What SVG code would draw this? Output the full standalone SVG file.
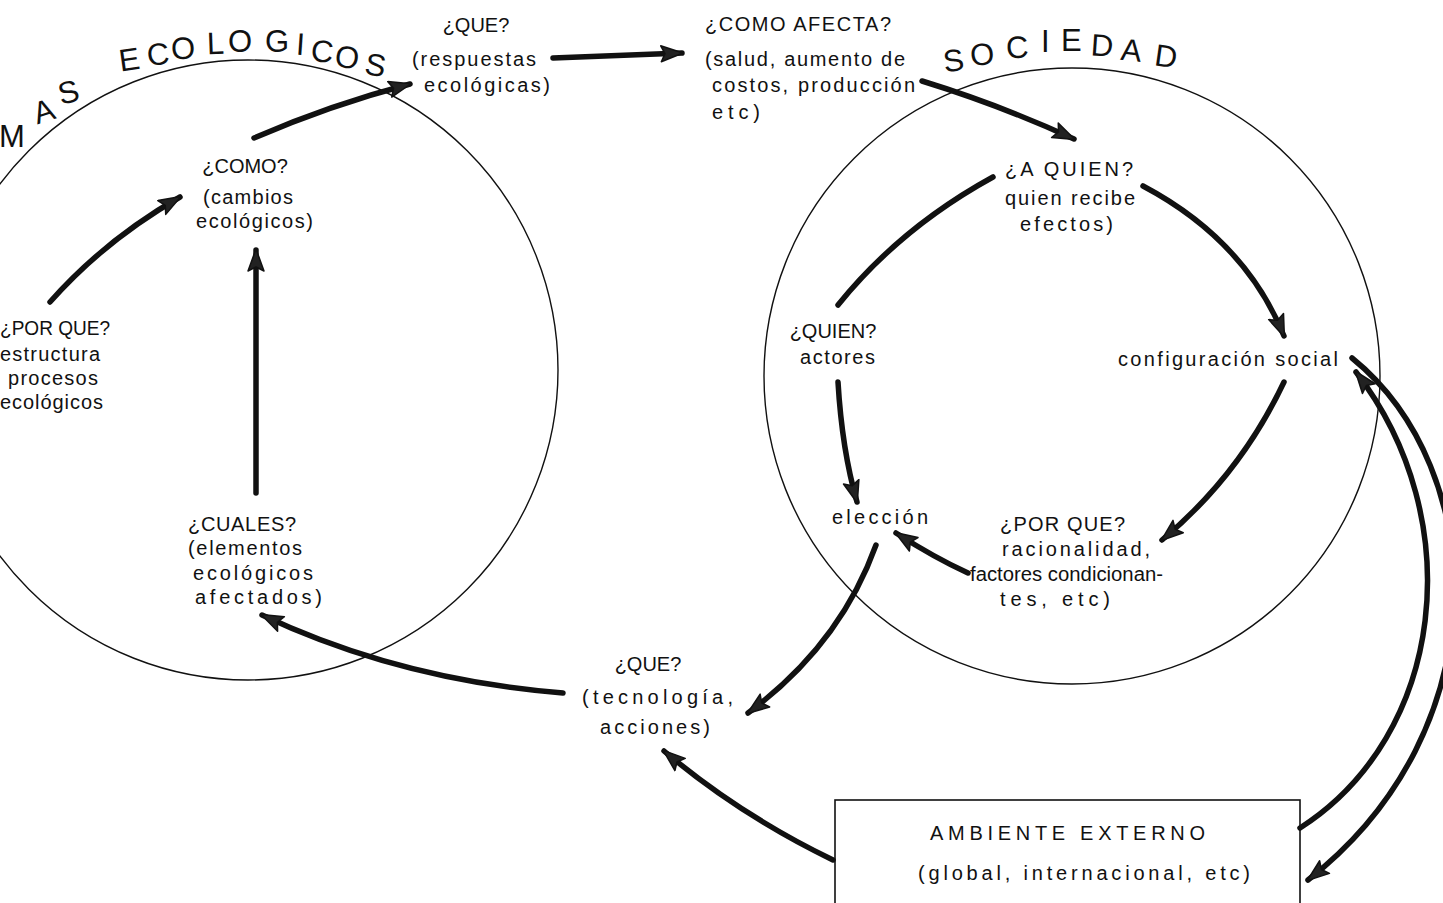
<svg xmlns="http://www.w3.org/2000/svg" width="1443" height="903" viewBox="0 0 1443 903">
<style>
text{font-family:"Liberation Sans","DejaVu Sans",sans-serif;font-size:20px;fill:#111;}
.c{text-anchor:middle;}
text.big{font-size:31px;}
.ring{fill:none;stroke:#111;stroke-width:1.4;}
.arr{fill:none;stroke:#111;stroke-width:5.5;stroke-linecap:round;marker-end:url(#ah);}
.arrn{fill:none;stroke:#111;stroke-width:5.5;stroke-linecap:round;}
.box{fill:#fff;stroke:#111;stroke-width:1.6;}
</style>
<defs>
<marker id="ah" markerUnits="userSpaceOnUse" markerWidth="28" markerHeight="22" refX="22" refY="9" orient="auto">
<path d="M1,1 L23,9 L1,17 L5,9 z" fill="#222" stroke="#111" stroke-width="1.5" stroke-linejoin="round"/>
</marker>
</defs>

<g id="circles">
<circle id="eco-circle" class="ring" cx="248" cy="370" r="310"/>
<circle id="soc-circle" class="ring" cx="1072" cy="376" r="308"/>
</g>

<g id="title-eco">
<text class="big" x="-1" y="147">M</text>
<text class="big" x="33" y="122" transform="rotate(-18 43 110)">A</text>
<text class="big" x="58" y="103" transform="rotate(-14 68 92)">S</text>
<text class="big" x="119" y="70" transform="rotate(-8 130 60)">E</text>
<text class="big" x="147" y="65" transform="rotate(-6 158 55)">C</text>
<text class="big" x="171" y="59" transform="rotate(-4 182 48)">O</text>
<text class="big" x="207" y="54" transform="rotate(-2 217 44)">L</text>
<text class="big" x="228" y="52">O</text>
<text class="big" x="265" y="52">G</text>
<text class="big" x="296" y="55" transform="rotate(4 302 46)">I</text>
<text class="big" x="311" y="62" transform="rotate(6 323 52)">C</text>
<text class="big" x="335" y="68" transform="rotate(8 347 58)">O</text>
<text class="big" x="365" y="76" transform="rotate(10 377 66)">S</text>
</g>

<g id="title-soc">
<text class="big" x="943" y="71" transform="rotate(-8 954 60)">S</text>
<text class="big" x="970" y="65" transform="rotate(-6 982 54)">O</text>
<text class="big" x="1006" y="58" transform="rotate(-4 1018 47)">C</text>
<text class="big" x="1041" y="52">I</text>
<text class="big" x="1061" y="51">E</text>
<text class="big" x="1091" y="56" transform="rotate(4 1103 45)">D</text>
<text class="big" x="1121" y="61" transform="rotate(6 1133 50)">A</text>
<text class="big" x="1155" y="67" transform="rotate(8 1167 56)">D</text>
</g>

<g id="n-que-resp">
<text class="c" x="476" y="32">¿QUE?</text>
<text x="412" y="66" textLength="124" lengthAdjust="spacing">(respuestas</text>
<text x="424" y="92" textLength="126" lengthAdjust="spacing">ecológicas)</text>
</g>

<g id="n-como-afecta">
<text x="705" y="31" textLength="186" lengthAdjust="spacing">¿COMO  AFECTA?</text>
<text x="705" y="66" textLength="200" lengthAdjust="spacing">(salud, aumento de</text>
<text x="712" y="92" textLength="203" lengthAdjust="spacing">costos, producción</text>
<text x="712" y="119" textLength="48" lengthAdjust="spacing">etc)</text>
</g>

<g id="n-como">
<text class="c" x="245" y="173">¿COMO?</text>
<text x="203" y="204" textLength="90" lengthAdjust="spacing">(cambios</text>
<text x="196" y="228" textLength="117" lengthAdjust="spacing">ecológicos)</text>
</g>

<g id="n-porque-eco">
<text x="0" y="335" textLength="110" lengthAdjust="spacingAndGlyphs">¿POR QUE?</text>
<text x="0" y="361" textLength="100" lengthAdjust="spacing">estructura</text>
<text x="8" y="385" textLength="90" lengthAdjust="spacing">procesos</text>
<text x="0" y="409" textLength="103" lengthAdjust="spacing">ecológicos</text>
</g>

<g id="n-cuales">
<text x="188" y="531" textLength="108" lengthAdjust="spacing">¿CUALES?</text>
<text x="188" y="555" textLength="114" lengthAdjust="spacing">(elementos</text>
<text x="193" y="580" textLength="120" lengthAdjust="spacing">ecológicos</text>
<text x="195" y="604" textLength="127" lengthAdjust="spacing">afectados)</text>
</g>

<g id="n-que-tec">
<text class="c" x="648" y="671">¿QUE?</text>
<text x="582" y="704" textLength="151" lengthAdjust="spacing">(tecnología,</text>
<text x="600" y="734" textLength="110" lengthAdjust="spacing">acciones)</text>
</g>

<g id="n-a-quien">
<text x="1005" y="176" textLength="128" lengthAdjust="spacing">¿A QUIEN?</text>
<text x="1005" y="205" textLength="130" lengthAdjust="spacing">quien recibe</text>
<text x="1020" y="231" textLength="93" lengthAdjust="spacing">efectos)</text>
</g>

<g id="n-quien">
<text class="c" x="833" y="338">¿QUIEN?</text>
<text x="800" y="364" textLength="75" lengthAdjust="spacing">actores</text>
</g>

<g id="n-config">
<text x="1118" y="366" textLength="220" lengthAdjust="spacing">configuración  social</text>
</g>

<g id="n-eleccion">
<text x="832" y="524" textLength="96" lengthAdjust="spacing">elección</text>
</g>

<g id="n-porque-soc">
<text x="1000" y="531" textLength="125" lengthAdjust="spacing">¿POR QUE?</text>
<text x="1002" y="556" textLength="148" lengthAdjust="spacing">racionalidad,</text>
<text x="970" y="581" textLength="193" lengthAdjust="spacingAndGlyphs">factores condicionan-</text>
<text x="1000" y="606" textLength="110" lengthAdjust="spacing">tes, etc)</text>
</g>

<g id="n-ambiente">
<rect class="box" x="835" y="800" width="465" height="120"/>
<text x="930" y="840" textLength="275" lengthAdjust="spacing">AMBIENTE  EXTERNO</text>
<text x="918" y="880" textLength="332" lengthAdjust="spacing">(global, internacional, etc)</text>
</g>

<g id="connectors">
<path class="arr" d="M50,302 Q105,240 180,197"/>
<path class="arr" d="M256,493 L256,250"/>
<path class="arr" d="M254,138 Q330,105 410,84"/>
<path class="arr" d="M553,58 L682,53"/>
<path class="arr" d="M922,81 Q1000,105 1074,139"/>
<path class="arrn" d="M838,305 Q900,228 993,177"/>
<path class="arr" d="M1143,186 Q1245,240 1284,336"/>
<path class="arr" d="M1284,382 Q1240,475 1162,540"/>
<path class="arr" d="M968,573 Q935,558 896,533"/>
<path class="arr" d="M838,382 Q842,450 857,502"/>
<path class="arr" d="M876,545 Q840,645 748,713"/>
<path class="arr" d="M563,693 Q400,680 262,615"/>
<path class="arr" d="M833,860 Q740,815 664,751"/>
<path class="arr" d="M1300,828 C1445,735 1470,520 1356,372"/>
<path class="arr" d="M1352,358 C1490,470 1500,730 1308,880"/>
</g>
</svg>
